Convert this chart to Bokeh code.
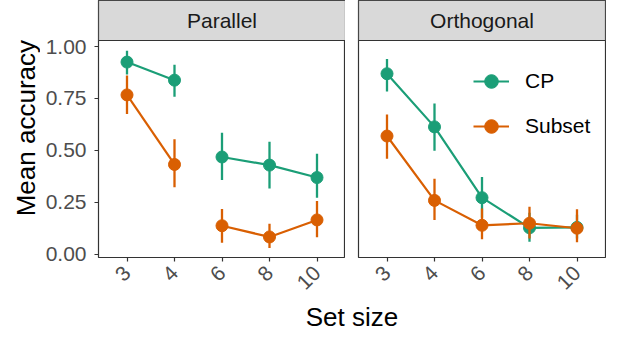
import math
from bokeh.plotting import figure
from bokeh.layouts import column, row
from bokeh.models import Range1d, FixedTicker, Label, Legend, LegendItem
from bokeh.embed import file_html
from bokeh.resources import INLINE

# ---------------- data ----------------
set_sizes = ["3", "4", "6", "8", "10"]
panels = ["Parallel", "Orthogonal"]
series = ["CP", "Subset"]
y_ticks = [0.0, 0.25, 0.5, 0.75, 1.0]
y_tick_labels = ["0.00", "0.25", "0.50", "0.75", "1.00"]

# Parallel
cp_par = [0.925, 0.838, 0.468, 0.429, 0.369]
cp_par_lo = [0.865, 0.758, 0.357, 0.316, 0.272]
cp_par_hi = [0.980, 0.912, 0.585, 0.541, 0.484]
sub_par = [0.767, 0.432, 0.137, 0.083, 0.165]
sub_par_lo = [0.675, 0.322, 0.055, 0.030, 0.082]
sub_par_hi = [0.860, 0.553, 0.217, 0.146, 0.256]
groups_par = [0, 0, 1, 1, 1]

# Orthogonal
cp_ort = [0.869, 0.613, 0.272, 0.127, 0.129]
cp_ort_lo = [0.784, 0.498, 0.175, 0.060, 0.075]
cp_ort_hi = [0.940, 0.726, 0.372, 0.200, 0.190]
sub_ort = [0.569, 0.259, 0.139, 0.149, 0.125]
sub_ort_lo = [0.460, 0.165, 0.072, 0.075, 0.058]
sub_ort_hi = [0.673, 0.363, 0.220, 0.228, 0.216]
groups_ort = [0, 0, 0, 0, 0]

colors = {"CP": "#1B9E77", "Subset": "#D95F02"}

FONT = "Liberation Sans"
YW = 40         # width of the y-title column (px)
LEFT = 58       # left border of first panel after the title column (px)
FW = 247        # panel frame width (px)
GAP = 13
RIGHT = 1
STRIP_H = 40    # strip height (px)
PANEL_H = 217   # panel height (px)
BOTTOM = 42     # x axis area (px)
TITLE_H = 31
Y0, Y1 = -0.016, 1.029
X0, X1 = 0.4, 5.6

xpos = list(range(1, len(set_sizes) + 1))
per_px = (Y1 - Y0) / PANEL_H
Y_TOP = Y1 + STRIP_H * per_px
FIG_H = STRIP_H + PANEL_H + BOTTOM


def split_groups(xs, ys, groups):
    out_x, out_y = [], []
    for g in sorted(set(groups)):
        out_x.append([x for x, gg in zip(xs, groups) if gg == g])
        out_y.append([y for y, gg in zip(ys, groups) if gg == g])
    return out_x, out_y


def make_panel(title, left, right, show_y, data, groups):
    p = figure(width=left + FW + right, height=FIG_H,
               x_range=Range1d(X0, X1), y_range=Range1d(Y0, Y_TOP),
               toolbar_location=None, output_backend="svg",
               min_border_left=left, min_border_right=right,
               min_border_top=0, min_border_bottom=BOTTOM,
               y_axis_location="left" if show_y else None)
    p.grid.visible = False
    p.outline_line_color = "#333333"
    p.outline_line_width = 1.2
    p.background_fill_color = "white"

    # facet strip
    p.quad(left=[X0], right=[X1], bottom=[Y1], top=[Y_TOP],
           fill_color="#D9D9D9", line_color="#333333", line_width=1.2)
    p.add_layout(Label(x=(X0 + X1) / 2, y=(Y1 + Y_TOP) / 2, text=title,
                       text_align="center", text_baseline="middle",
                       text_font_size="21px", text_color="#1A1A1A",
                       text_font=FONT))

    xa = p.xaxis[0]
    xa.ticker = FixedTicker(ticks=xpos)
    xa.major_label_overrides = {x: s for x, s in zip(xpos, set_sizes)}
    xa.major_label_orientation = math.pi / 4
    xa.major_label_text_font = FONT
    xa.major_label_text_font_size = "21px"
    xa.major_label_text_color = "#4D4D4D"
    xa.major_label_standoff = 8
    xa.axis_line_color = None
    xa.major_tick_line_color = "#333333"
    xa.major_tick_line_width = 1.2
    xa.major_tick_out = 4
    xa.major_tick_in = 0
    xa.minor_tick_line_color = None

    if show_y:
        ya = p.yaxis[0]
        ya.ticker = FixedTicker(ticks=y_ticks)
        ya.major_label_overrides = {t: s for t, s in zip(y_ticks, y_tick_labels)}
        ya.major_label_text_font = FONT
        ya.major_label_text_font_size = "21px"
        ya.major_label_text_color = "#4D4D4D"
        ya.major_label_standoff = 8
        ya.axis_line_color = None
        ya.major_tick_line_color = "#333333"
        ya.major_tick_line_width = 1.2
        ya.major_tick_out = 4
        ya.major_tick_in = 0
        ya.minor_tick_line_color = None

    renderers = {}
    for name in series:
        y, lo, hi = data[name]
        mx, my = split_groups(xpos, y, groups)
        lr = p.multi_line(mx, my, line_color=colors[name], line_width=2.2)
        renderers[name] = [lr]
    for name in series:
        y, lo, hi = data[name]
        p.segment(x0=xpos, y0=lo, x1=xpos, y1=hi, line_color=colors[name], line_width=2.3)
        sr = p.scatter(xpos, y, size=12, fill_color=colors[name], line_color=colors[name])
        renderers[name].append(sr)
    return p, renderers


p1, r1 = make_panel(panels[0], LEFT, 0, True,
                    {"CP": (cp_par, cp_par_lo, cp_par_hi),
                     "Subset": (sub_par, sub_par_lo, sub_par_hi)}, groups_par)
p2, r2 = make_panel(panels[1], GAP, RIGHT, False,
                    {"CP": (cp_ort, cp_ort_lo, cp_ort_hi),
                     "Subset": (sub_ort, sub_ort_lo, sub_ort_hi)}, groups_ort)

legend = Legend(items=[LegendItem(label=n, renderers=r2[n]) for n in series],
                location=(115, 114))
legend.background_fill_alpha = 0
legend.border_line_color = None
legend.padding = 0
legend.margin = 0
legend.spacing = 11
legend.glyph_width = 36
legend.glyph_height = 34
legend.label_height = 34
legend.label_standoff = 16
legend.label_text_font = FONT
legend.label_text_font_size = "21px"
legend.label_text_color = "black"
p2.add_layout(legend)

# y axis title column (centred on the panels, not the strips)
yl = figure(width=YW, height=FIG_H, x_range=Range1d(0, YW), y_range=Range1d(0, FIG_H),
            toolbar_location=None, output_backend="svg",
            min_border=0, x_axis_location=None, y_axis_location=None)
yl.outline_line_color = None
yl.grid.visible = False
yl.add_layout(Label(x=25, y=FIG_H - (STRIP_H + PANEL_H / 2), text="Mean accuracy",
                    angle=math.pi / 2, text_align="center", text_baseline="middle",
                    text_font_size="26px", text_color="black", text_font=FONT))

# x axis title row (centred on both panels)
total_w = YW + LEFT + FW + GAP + FW + RIGHT
t = figure(width=total_w, height=TITLE_H,
           x_range=Range1d(0, total_w), y_range=Range1d(0, TITLE_H),
           toolbar_location=None, output_backend="svg",
           min_border=0, x_axis_location=None, y_axis_location=None)
t.outline_line_color = None
t.grid.visible = False
center_x = (YW + LEFT + (YW + LEFT + FW + GAP + FW)) / 2
t.add_layout(Label(x=center_x, y=14, text="Set size", text_align="center",
                   text_baseline="middle", text_font_size="26px",
                   text_color="black", text_font=FONT))

layout = column(row(yl, p1, p2), t)
open("out.html", "w").write(file_html(layout, INLINE))
